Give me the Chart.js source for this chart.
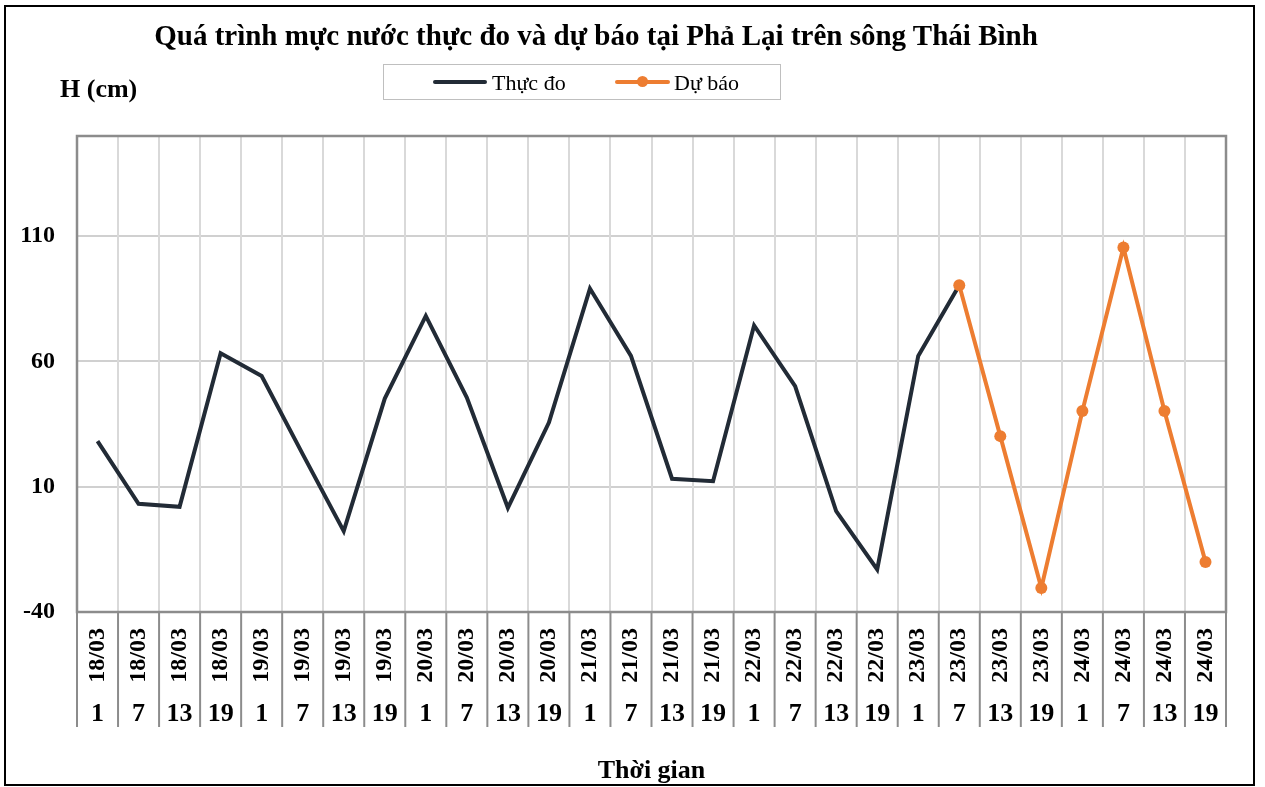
<!DOCTYPE html>
<html>

<head>
    <title>Mực nước Phả Lại</title>
    <script src="https://cdn.jsdelivr.net/npm/chart.js"></script>
    <style>
        body {
            margin: 0;
            background: #fff;
            font-family: "Liberation Serif", "Times New Roman", serif;
        }

        #wrap {
            position: relative;
            width: 1265px;
            height: 787px;
        }

        .txt {
            position: absolute;
            line-height: 1;
            white-space: nowrap;
            color: #000;
        }

        #title {
            left: 0;
            width: 1192px;
            top: 21px;
            text-align: center;
            font-size: 29px;
            font-weight: bold;
        }

        #unit {
            left: 60px;
            top: 76px;
            font-size: 26px;
            font-weight: bold;
        }

        #legend {
            position: absolute;
            left: 383px;
            top: 64px;
            width: 396px;
            height: 34px;
            border: 1.5px solid #bfbfbf;
        }

        .swatch {
            position: absolute;
            height: 4px;
            border-radius: 2px;
        }

        .dot {
            position: absolute;
            width: 11px;
            height: 11px;
            border-radius: 50%;
            background: #ED7D31;
        }

        .leg {
            font-size: 22px;
        }
    </style>
</head>

<body>
    <div id="wrap">
        <canvas id="myChart"></canvas>
        <div id="title" class="txt">Quá trình mực nước thực đo và dự báo tại Phả Lại trên sông Thái Bình</div>
        <div id="unit" class="txt">H (cm)</div>
        <div id="legend"></div>
        <div class="swatch" style="left:433px;top:80px;width:54px;background:#222b36"></div>
        <div class="txt leg" style="left:492px;top:72px">Thực đo</div>
        <div class="swatch" style="left:615px;top:80px;width:55px;background:#ED7D31"></div>
        <div class="dot" style="left:637px;top:76px"></div>
        <div class="txt leg" style="left:674px;top:72px">Dự báo</div>
    </div>

    <script>
        // categories (two-level axis: date / hour)
        const dateLabels = ['18/03', '18/03', '18/03', '18/03', '19/03', '19/03', '19/03', '19/03',
            '20/03', '20/03', '20/03', '20/03', '21/03', '21/03', '21/03', '21/03',
            '22/03', '22/03', '22/03', '22/03', '23/03', '23/03', '23/03', '23/03',
            '24/03', '24/03', '24/03', '24/03'];
        const hourLabels = ['1', '7', '13', '19', '1', '7', '13', '19',
            '1', '7', '13', '19', '1', '7', '13', '19',
            '1', '7', '13', '19', '1', '7', '13', '19',
            '1', '7', '13', '19'];

        // measured water level, 18/03 1h .. 23/03 7h
        const observed = [28.2, 3.2, 2.0, 63.3, 54.2, 23.0, -7.7, 45.2,
            78.2, 45.6, 1.6, 35.6, 89.1, 62.2, 13.2, 12.2,
            74.4, 50.2, 0.3, -23.0, 62.2, 90.4];
        // forecast, 23/03 7h .. 24/03 19h
        const forecast = [90.4, 30.2, -30.4, 40.2, 105.5, 40.2, -20.0];
        const forecastStart = 21;

        const yTicks = [-40, 10, 60, 110];

        const observedData = dateLabels.map((d, i) => i < observed.length ? observed[i] : null);
        const forecastData = dateLabels.map((d, i) => i >= forecastStart ? forecast[i - forecastStart] : null);

        const DATE_ROW = 71;
        const HOUR_ROW = 44;

        const serif = '"Liberation Serif", "Times New Roman", serif';

        // plot border + outer frame + table lines under the x axis
        const framePlugin = {
            id: 'frame',
            beforeDatasetsDraw(chart) {
                const a = chart.chartArea;
                const ctx = chart.ctx;
                ctx.save();
                ctx.strokeStyle = '#8c8c8c';
                ctx.lineWidth = 2.5;
                ctx.strokeRect(a.left, a.top, a.right - a.left, a.bottom - a.top);
                ctx.restore();
            },
            afterDraw(chart) {
                const ctx = chart.ctx;
                const x = chart.scales.x;
                const n = dateLabels.length;
                ctx.save();
                ctx.strokeStyle = '#8c8c8c';
                ctx.lineWidth = 2;
                const top = x.top;
                const bottom = x.top + DATE_ROW + HOUR_ROW;
                for (let i = 0; i <= n; i++) {
                    let px;
                    if (i === 0) px = x.left;
                    else if (i === n) px = x.right;
                    else px = (x.getPixelForTick(i - 1) + x.getPixelForTick(i)) / 2;
                    ctx.beginPath();
                    ctx.moveTo(px, top);
                    ctx.lineTo(px, bottom);
                    ctx.stroke();
                }
                ctx.strokeStyle = '#000';
                ctx.lineWidth = 2;
                ctx.strokeRect(5, 6, 1249, 779);
                ctx.restore();
            }
        };

        const ctx = document.getElementById('myChart').getContext('2d');
        const myChart = new Chart(ctx, {
            type: 'line',
            data: {
                labels: dateLabels,
                datasets: [{
                    label: 'Dự báo',
                    data: forecastData,
                    borderColor: '#ED7D31',
                    backgroundColor: '#ED7D31',
                    borderWidth: 4,
                    pointRadius: 6,
                    pointBorderWidth: 0,
                    pointBackgroundColor: '#ED7D31',
                    order: 0
                }, {
                    label: 'Thực đo',
                    data: observedData,
                    borderColor: '#222b36',
                    backgroundColor: '#222b36',
                    borderWidth: 4,
                    pointRadius: 0,
                    order: 1
                }]
            },
            options: {
                responsive: true,
                maintainAspectRatio: false,
                animation: false,
                layout: {
                    padding: { top: 136, left: 10, right: 39, bottom: 0 }
                },
                plugins: {
                    legend: { display: false },
                    title: { display: false },
                    tooltip: { enabled: false }
                },
                scales: {
                    y: {
                        min: -40,
                        max: 150,
                        afterBuildTicks(scale) {
                            scale.ticks = yTicks.map(v => ({ value: v }));
                        },
                        afterFit(scale) {
                            scale.width = 67;
                        },
                        border: { display: false },
                        grid: { color: '#d0d0d0', lineWidth: 2, drawTicks: false },
                        ticks: {
                            color: '#000',
                            padding: 22,
                            font: { family: serif, size: 24, weight: 'bold' }
                        }
                    },
                    x: {
                        type: 'category',
                        weight: 1,
                        offset: true,
                        afterFit(scale) {
                            scale.height = DATE_ROW;
                        },
                        border: { display: false },
                        grid: { color: '#d9d9d9', lineWidth: 2, offset: true, drawTicks: false },
                        ticks: {
                            color: '#000',
                            autoSkip: false,
                            minRotation: 90,
                            maxRotation: 90,
                            padding: 16,
                            font: { family: serif, size: 24, weight: 'bold' }
                        }
                    },
                    x2: {
                        type: 'category',
                        labels: hourLabels,
                        position: 'bottom',
                        weight: 2,
                        offset: true,
                        afterFit(scale) {
                            scale.height = 787 - 612 - DATE_ROW;
                        },
                        border: { display: false },
                        grid: { display: false },
                        ticks: {
                            color: '#000',
                            autoSkip: false,
                            maxRotation: 0,
                            padding: 8,
                            font: { family: serif, size: 26, weight: 'bold' }
                        },
                        title: {
                            display: true,
                            text: 'Thời gian',
                            color: '#000',
                            padding: { top: 0, bottom: 0 },
                            font: { family: serif, size: 26, weight: 'bold' }
                        }
                    }
                }
            },
            plugins: [framePlugin]
        });
    </script>
</body>

</html>
